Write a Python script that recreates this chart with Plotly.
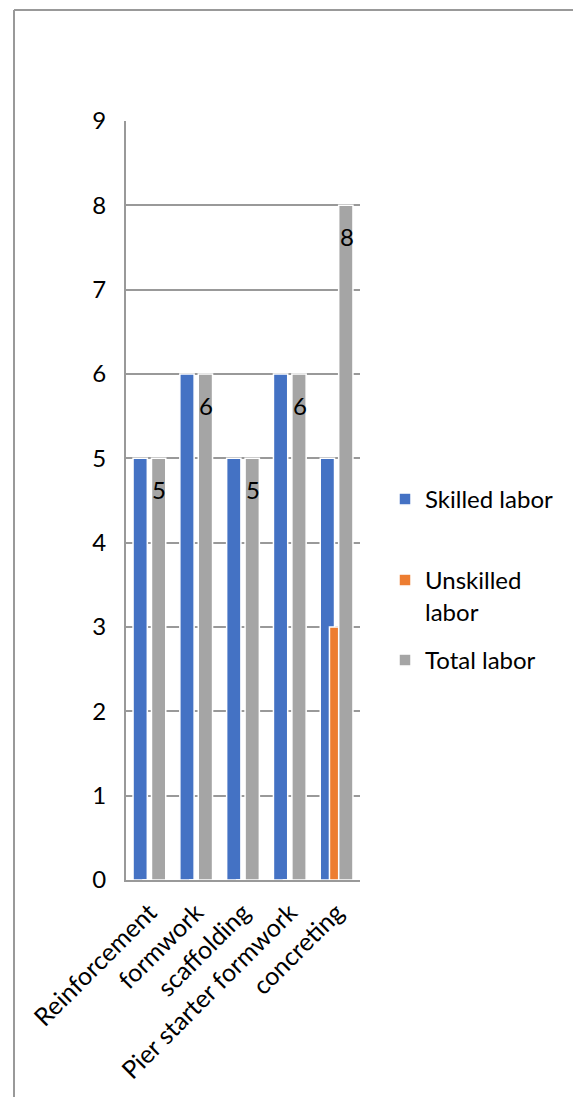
import plotly.graph_objects as go

categories = ["Reinforcement", "formwork", "scaffolding", "Pier starter formwork", "concreting"]
skilled = [5, 6, 5, 6, 5]
unskilled = [0, 0, 0, 0, 3]
total = [5, 6, 5, 6, 8]
y_ticks = [0, 1, 2, 3, 4, 5, 6, 7, 8, 9]

FONT = "Lato"
OFF = 8  # page body margin of the html
W, H = 581 - OFF, 1097 - OFF
L, R, T, B = 126 - OFF, 360 - OFF, 121 - OFF, 880 - OFF

fig = go.Figure()
bw = 0.305
sp = 0.197
fig.add_trace(go.Bar(x=categories, y=skilled, name="Skilled labor", legend="legend",
                     marker=dict(color="#4472C4", line=dict(color="white", width=1.5)),
                     width=bw, offset=-sp - bw / 2))
fig.add_trace(go.Bar(x=categories, y=unskilled, name="Unskilled<br>labor", legend="legend2",
                     marker=dict(color="#ED7D31", line=dict(color="white", width=1.5)),
                     width=bw, offset=-bw / 2))
fig.add_trace(go.Bar(x=categories, y=total, name="Total labor", legend="legend3",
                     marker=dict(color="#A5A5A5", line=dict(color="white", width=1.5)),
                     width=bw, offset=sp - bw / 2))

for c, v in zip(categories, total):
    fig.add_annotation(x=c, y=v, text=str(v), showarrow=False, xref="x", yref="y",
                       xshift=10, yshift=-31, yanchor="middle",
                       font=dict(family=FONT, size=24, color="black"))

pw = R - L
ph = B - T
def px(xp):
    return (xp - OFF - L) / pw
def py(yp):
    return (B - (yp - OFF)) / ph

fig.add_shape(type="line", xref="paper", yref="paper", x0=px(14), x1=px(600), y0=py(10), y1=py(10),
              line=dict(color="#999999", width=2))
fig.add_shape(type="line", xref="paper", yref="paper", x0=px(14), x1=px(14), y0=py(10), y1=py(1120),
              line=dict(color="#999999", width=2))

legend_common = dict(font=dict(family=FONT, size=24, color="black"), bgcolor="rgba(0,0,0,0)",
                     xanchor="left", yanchor="top", valign="top", x=px(385))
fig.update_layout(
    width=W, height=H,
    margin=dict(l=L, r=W - R, t=T, b=H - B, pad=0),
    paper_bgcolor="white", plot_bgcolor="white",
    barmode="overlay",
    showlegend=True,
    legend=dict(**legend_common, y=py(477)),
    legend2=dict(**legend_common, y=py(558)),
    legend3=dict(**legend_common, y=py(638)),
    font=dict(family=FONT, size=24, color="black"),
    xaxis=dict(type="category", range=[-0.5, 4.5], showline=True, linecolor="#999999", linewidth=2,
               showgrid=False, tickangle=-45, tickfont=dict(family=FONT, size=25, color="black"),
               ticks="", ticklabelstandoff=6),
    yaxis=dict(range=[0, 9], tickvals=y_ticks, showline=True, linecolor="#999999", linewidth=2,
               showgrid=True, gridcolor="#999999", gridwidth=1.5, zeroline=False,
               tickfont=dict(family=FONT, size=24, color="black"), ticks="", ticklabelstandoff=13),
)

fig.write_html("out.html")
